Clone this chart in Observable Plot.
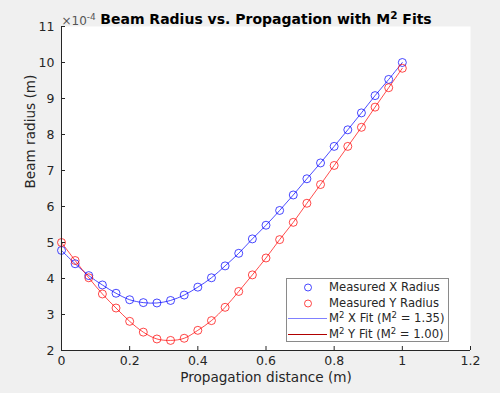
<!DOCTYPE html>
<html><head><meta charset="utf-8">
<script src="https://cdn.jsdelivr.net/npm/d3@7"></script>
<script src="https://cdn.jsdelivr.net/npm/@observablehq/plot@0.6"></script>
<style>
body{margin:0;background:#f0f0f0;font-family:"DejaVu Sans",sans-serif;}
#wrap{position:relative;width:500px;height:393px;overflow:hidden;}
#legend{position:absolute;left:286px;top:278px;width:163px;height:64px;background:#fff;border:1px solid #8a8a8a;box-sizing:border-box;font-size:11.6px;color:#262626;}
.row{position:absolute;left:0;height:15px;width:160px;}
.row svg{position:absolute;left:0;top:0;}
.row span{position:absolute;left:42px;top:0;line-height:15px;white-space:nowrap;}
sup{font-size:8.5px;line-height:0;vertical-align:4px;}
</style></head><body><div id="wrap"></div>
<script>
const z  = [0,0.04,0.08,0.12,0.16,0.20,0.24,0.28,0.32,0.36,0.40,0.44,0.48,0.52,0.56,0.60,0.64,0.68,0.72,0.76,0.80,0.84,0.88,0.92,0.96,1.00];
const wx = [4.78,4.41,4.08,3.82,3.59,3.41,3.33,3.32,3.39,3.54,3.76,4.02,4.35,4.70,5.10,5.48,5.89,6.32,6.77,7.21,7.67,8.13,8.60,9.08,9.53,10.00];
const wy = [5.00,4.50,4.02,3.57,3.18,2.81,2.51,2.32,2.28,2.34,2.56,2.83,3.20,3.64,4.10,4.57,5.08,5.56,6.09,6.61,7.14,7.67,8.20,8.76,9.30,9.84];
const xTicks = [0,0.2,0.4,0.6,0.8,1,1.2];
const yTicks = [2,3,4,5,6,7,8,9,10,11];
const m2x = "1.35", m2y = "1.00";
const seriesNames = ["Measured X Radius","Measured Y Radius"];
const titleParts = ["Beam Radius vs. Propagation with M", "2", " Fits"];
const expParts = ["×10", "-4"];

const ptsX = z.map((d,i)=>({z:d,w:wx[i]}));
const ptsY = z.map((d,i)=>({z:d,w:wy[i]}));
const ink = "#262626";

const chart = Plot.plot({
  width:500, height:393,
  marginLeft:61, marginRight:30, marginTop:26, marginBottom:43,
  style:{background:"transparent", fontFamily:"DejaVu Sans", fontSize:"11.5px", color:ink, overflow:"visible"},
  x:{domain:[0,1.2]},
  y:{domain:[2,11]},
  marks:[
    Plot.frame({fill:"white", stroke:null}),
    Plot.line(ptsX,{x:"z", y:"w", stroke:"#0000ff", strokeWidth:0.7, curve:"catmull-rom"}),
    Plot.line(ptsY,{x:"z", y:"w", stroke:"#ff0000", strokeWidth:0.7, curve:"catmull-rom"}),
    Plot.dot(ptsX,{x:"z", y:"w", r:4, stroke:"#0000ff", strokeWidth:0.9, strokeOpacity:0.8, fill:"none"}),
    Plot.dot(ptsY,{x:"z", y:"w", r:4, stroke:"#ff0000", strokeWidth:0.9, strokeOpacity:0.8, fill:"none"}),
    Plot.ruleX([0],{stroke:ink, strokeWidth:1}),
    Plot.ruleY([2],{stroke:ink, strokeWidth:1}),
    Plot.axisX(xTicks,{tickSize:-4, tickFormat:()=>"", label:null, stroke:ink}),
    Plot.axisY(yTicks,{tickSize:-4, tickFormat:()=>"", label:null, stroke:ink}),
    Plot.axisX(xTicks,{tickSize:0, tickPadding:6, label:null, fill:ink, fontSize:12.5, tickFormat:d=>String(d)}),
    Plot.axisY(yTicks,{tickSize:0, tickPadding:7, label:null, fill:ink, fontSize:12.5}),
    Plot.text([expParts.join("")],{frameAnchor:"top-left", textAnchor:"start", dy:-10, fontSize:12, fill:"#555", className:"exp-label"}),
    Plot.text([titleParts.join("")],{frameAnchor:"top", dy:-12, fontSize:14, fontWeight:"bold", fill:"#000", className:"title-label"}),
    Plot.text(["Propagation distance (m)"],{frameAnchor:"bottom", dy:31, fontSize:13.6, fill:ink}),
    Plot.text(["Beam radius (m)"],{frameAnchor:"left", dx:-31, rotate:-90, fontSize:13.6, fill:ink})
  ]
});
const wrap = document.getElementById("wrap");
wrap.appendChild(chart);

function superscript(sel, parts, supSize, raise) {
  sel.selectAll("text").each(function(){
    const t = d3.select(this);
    t.text(null);
    t.append("tspan").text(parts[0]);
    t.append("tspan").attr("dy", -raise).attr("font-size", supSize).text(parts[1]);
    if (parts[2]) t.append("tspan").attr("dy", raise).text(parts[2]);
  });
}
superscript(d3.select(chart).select("g.title-label"), titleParts, 10.5, 5);
superscript(d3.select(chart).select("g.exp-label"), expParts, 9, 5);

const legend = document.createElement("div");
legend.id = "legend";
const rows = [
  {kind:"dot", color:"#0000ff", html:seriesNames[0]},
  {kind:"dot", color:"#ff0000", html:seriesNames[1]},
  {kind:"line", color:"#8080ff", html:`M<sup>2</sup> X Fit (M<sup>2</sup> = ${m2x})`},
  {kind:"line", color:"#b00000", html:`M<sup>2</sup> Y Fit (M<sup>2</sup> = ${m2y})`}
];
rows.forEach((r,i)=>{
  const d = document.createElement("div");
  d.className = "row";
  d.style.top = (1 + i*15.5) + "px";
  const icon = r.kind==="dot"
    ? `<svg width="42" height="15"><circle cx="21" cy="7.5" r="3.5" fill="none" stroke="${r.color}" stroke-width="0.9" stroke-opacity="0.8"/></svg>`
    : `<svg width="42" height="15"><line x1="1" x2="40" y1="7.5" y2="7.5" stroke="${r.color}" stroke-width="1"/></svg>`;
  d.innerHTML = icon + `<span>${r.html}</span>`;
  legend.appendChild(d);
});
wrap.appendChild(legend);
</script>
</body></html>
